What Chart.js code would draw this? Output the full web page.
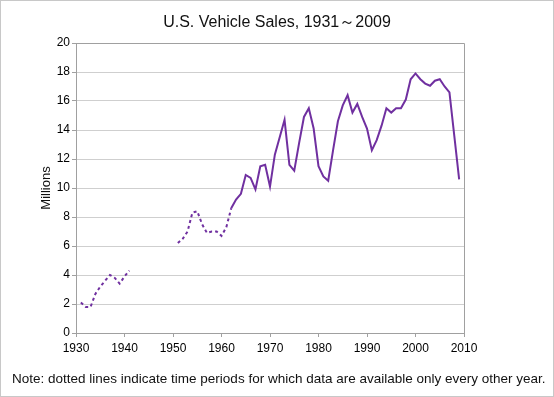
<!DOCTYPE html>
<html>
<head>
<meta charset="utf-8">
<script src="https://cdn.jsdelivr.net/npm/chart.js@4.4.1/dist/chart.umd.min.js"></script>
<style>
  html, body { margin: 0; padding: 0; background: #fff; }
  #wrap { width: 554px; height: 397px; position: relative; }
</style>
</head>
<body>
<div id="wrap"><canvas id="chart" width="554" height="397"></canvas></div>
<script>
// Chart text
const chartTitle = 'U.S. Vehicle Sales, 1931\uFF5E2009';
const noteText = 'Note: dotted lines indicate time periods for which data are available only every other year.';
const yAxisTitle = 'Millions';

// Pre-war years (dotted, every other year data)
const earlyYears = [1931, 1932, 1933, 1934, 1935, 1936, 1937, 1938, 1939, 1940, 1941];
const earlySales = [2.1, 1.8, 1.8, 2.7, 3.2, 3.6, 4.0, 3.8, 3.4, 3.9, 4.3];

// 1950s (dotted, every other year data)
const fiftiesYears = [1951, 1952, 1953, 1954, 1955, 1956, 1957, 1958, 1959, 1960, 1961, 1962];
const fiftiesSales = [6.2, 6.5, 7.0, 8.3, 8.4, 7.5, 6.9, 7.0, 7.0, 6.7, 7.3, 8.6];

// Annual data (solid)
const modernYears = [1962, 1963, 1964, 1965, 1966, 1967, 1968, 1969, 1970,
    1971, 1972, 1973, 1974, 1975, 1976, 1977, 1978, 1979, 1980,
    1981, 1982, 1983, 1984, 1985, 1986, 1987, 1988, 1989, 1990,
    1991, 1992, 1993, 1994, 1995, 1996, 1997, 1998, 1999, 2000,
    2001, 2002, 2003, 2004, 2005, 2006, 2007, 2008, 2009];
const modernSales = [8.6, 9.2, 9.6, 10.9, 10.7, 9.9, 11.5, 11.6, 10.1,
    12.3, 13.5, 14.7, 11.6, 11.2, 13.1, 14.9, 15.5, 14.1, 11.5,
    10.8, 10.5, 12.6, 14.6, 15.7, 16.4, 15.2, 15.8, 14.9, 14.1,
    12.6, 13.3, 14.3, 15.5, 15.2, 15.5, 15.5, 16.1, 17.5, 17.9,
    17.5, 17.2, 17.05, 17.4, 17.5, 17.0, 16.6, 13.6, 10.6];

const lineColor = '#7030a0';
const fontFamily = '"Liberation Sans", Arial, Helvetica, sans-serif';

function toPoints(years, values) {
    return years.map((y, i) => ({ x: y, y: values[i] }));
}

function lineDataset(years, values, dotted) {
    return {
        data: toPoints(years, values),
        borderColor: lineColor,
        borderWidth: 2,
        borderDash: dotted ? [3, 3] : [],
        pointRadius: 0,
        fill: false,
        tension: 0
    };
}

// Draws the outer frame, plot frame, title and note
const decorations = {
    id: 'decorations',
    beforeDraw(chart) {
        const ctx = chart.ctx;
        ctx.save();
        ctx.fillStyle = '#fff';
        ctx.fillRect(0, 0, chart.width, chart.height);
        ctx.strokeStyle = '#c8c8c8';
        ctx.lineWidth = 1;
        ctx.strokeRect(0.5, 0.5, chart.width - 1, chart.height - 1);
        ctx.restore();
    },
    afterDatasetsDraw(chart) {
        const ctx = chart.ctx;
        const a = chart.chartArea;
        ctx.save();
        ctx.strokeStyle = '#a0a0a0';
        ctx.lineWidth = 1;
        ctx.beginPath();
        ctx.moveTo(Math.round(a.left) + 0.5, Math.round(a.top) + 0.5);
        ctx.lineTo(Math.round(a.right) + 0.5, Math.round(a.top) + 0.5);
        ctx.lineTo(Math.round(a.right) + 0.5, Math.round(a.bottom) + 0.5);
        ctx.stroke();
        ctx.fillStyle = '#111';
        ctx.textAlign = 'center';
        ctx.textBaseline = 'middle';
        ctx.font = '16px ' + fontFamily;
        ctx.fillText(chartTitle, 277, 23);
        ctx.textAlign = 'left';
        ctx.font = '13.5px ' + fontFamily;
        ctx.fillText(noteText, 12, 379);
        ctx.restore();
    }
};

const ctx = document.getElementById('chart');
new Chart(ctx, {
    type: 'line',
    data: {
        datasets: [
            lineDataset(earlyYears, earlySales, true),
            lineDataset(fiftiesYears, fiftiesSales, true),
            lineDataset(modernYears, modernSales, false)
        ]
    },
    options: {
        responsive: false,
        animation: false,
        layout: { padding: { top: 43, right: 90, bottom: 40, left: 0 } },
        plugins: {
            legend: { display: false },
            tooltip: { enabled: false },
            title: { display: false }
        },
        scales: {
            x: {
                type: 'linear',
                min: 1930,
                max: 2010,
                ticks: {
                    stepSize: 10,
                    color: '#000',
                    padding: 4,
                    maxRotation: 0,
                    font: { family: fontFamily, size: 12 },
                    callback: v => String(v)
                },
                grid: {
                    drawOnChartArea: false,
                    drawTicks: true,
                    tickLength: 4,
                    tickColor: '#a0a0a0'
                },
                border: { color: '#a0a0a0', width: 1 },
                afterFit: axis => { axis.height = 24; }
            },
            y: {
                min: 0,
                max: 20,
                ticks: {
                    stepSize: 2,
                    color: '#000',
                    padding: 2,
                    font: { family: fontFamily, size: 12 }
                },
                grid: {
                    color: '#cfcfcf',
                    drawTicks: true,
                    tickLength: 4,
                    tickColor: '#a0a0a0'
                },
                border: { color: '#a0a0a0', width: 1 },
                title: {
                    display: true,
                    text: yAxisTitle,
                    color: '#111',
                    font: { family: fontFamily, size: 13 },
                    padding: { top: 39, bottom: 0 }
                },
                afterFit: axis => { axis.width = 76; }
            }
        }
    },
    plugins: [decorations]
});
</script>
</body>
</html>
